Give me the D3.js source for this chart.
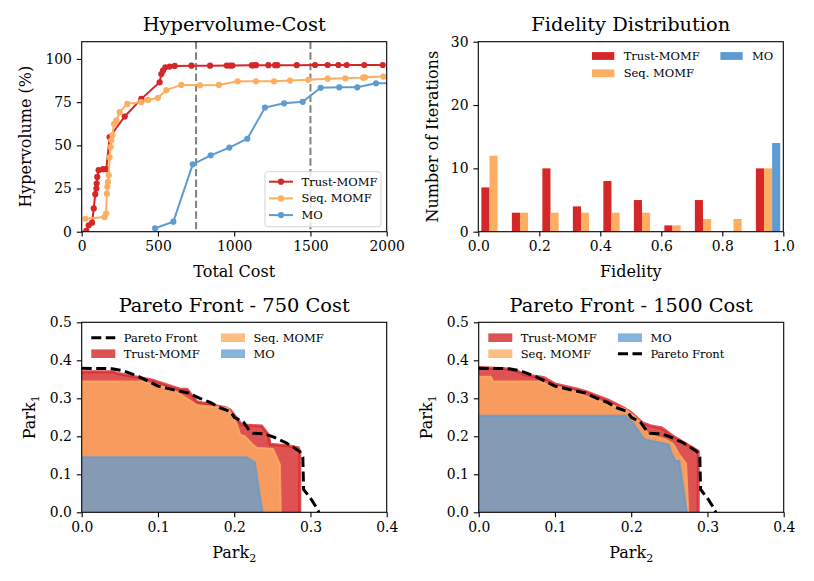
<!DOCTYPE html>
<html>
<head>
<meta charset="utf-8">
<script src="https://cdn.jsdelivr.net/npm/d3@7"></script>
<style>
  body { margin: 0; background: #fff; }
  svg text { font-family: "DejaVu Serif", serif; }
</style>
</head>
<body>
<svg id="chart" width="814" height="581"></svg>
<script>
// ---- data ----
const costTicks = [0, 500, 1000, 1500, 2000];
const hvTicks = [0, 25, 50, 75, 100];
const costMarks = [750, 1500];

const trustCost = [30, 46, 68, 79, 89, 96, 98, 102, 111, 140, 161, 183, 282, 391, 511, 522, 533, 549, 577, 610,
  720, 842, 951, 972, 988, 1115, 1125, 1143, 1224, 1268, 1283, 1410, 1530, 1613, 1683, 1738, 1853, 1974];
const trustHV = [0.5, 3.7, 5.2, 13.5, 21.7, 25, 27.9, 31.7, 35.6, 36.2, 36.2, 54.8, 66.7, 76.9, 86.5, 91.3, 93.2, 95.2, 95.6, 96,
  96.1, 96.1, 96.2, 96.2, 96.2, 96.3, 96.3, 96.4, 96.4, 96.4, 96.4, 96.4, 96.5, 96.5, 96.5, 96.5, 96.5, 96.5];

const seqCost = [25, 150, 160, 165, 168, 172, 177, 183, 190, 194, 201, 212, 227, 249, 299, 391, 435, 500, 555, 653,
  776, 900, 1023, 1143, 1261, 1366, 1486, 1613, 1729, 1845, 1858, 1978];
const seqHV = [7.5, 8.5, 10.5, 22, 26, 28.8, 32.7, 43, 49, 52.9, 55.8, 62.5, 64.4, 69.2, 74, 75, 76.3, 77.5, 82, 85,
  84.8, 85, 87.1, 87.1, 87.1, 87.5, 87.9, 88.6, 88.8, 89.2, 89.4, 89.8];

const moCost = [481, 601, 728, 846, 968, 1086, 1202, 1327, 1449, 1567, 1689, 1807, 1930, 2050];
const moHV = [2, 5.8, 39, 44.2, 48.7, 53.8, 71.9, 74.3, 75.2, 83.3, 83.6, 83.6, 85.9, 86];

const fidelityBins = [0.0, 0.1, 0.2, 0.3, 0.4, 0.5, 0.6, 0.7, 0.8, 0.9];
const binWidth = 0.1;
const trustCounts = [7, 3, 10, 4, 8, 5, 1, 5, 0, 10];
const seqCounts = [12, 3, 3, 3, 3, 3, 1, 2, 2, 10];
const moCounts = [0, 0, 0, 0, 0, 0, 0, 0, 0, 14];
const fidelityTicks = [0, 0.2, 0.4, 0.6, 0.8, 1.0];
const iterTicks = [0, 10, 20, 30];

const park2Ticks = [0, 0.1, 0.2, 0.3, 0.4];
const park1Ticks = [0, 0.1, 0.2, 0.3, 0.4, 0.5];

// [Park2, Park1]
const paretoFront = [[0, 0.379], [0.04, 0.378], [0.055, 0.372], [0.075, 0.357], [0.088, 0.344], [0.1, 0.332],
  [0.125, 0.32], [0.14, 0.314], [0.155, 0.3], [0.17, 0.288], [0.18, 0.276], [0.195, 0.265], [0.2, 0.25],
  [0.212, 0.238], [0.22, 0.215], [0.225, 0.208], [0.24, 0.206], [0.252, 0.198], [0.268, 0.183], [0.286, 0.16],
  [0.29, 0.145], [0.291, 0.06], [0.3, 0.037], [0.308, 0.012], [0.311, 0]];

const trust750 = [[0, 0.37], [0.042, 0.37], [0.046, 0.366], [0.092, 0.348], [0.129, 0.324], [0.138, 0.324],
  [0.151, 0.291], [0.19, 0.275], [0.195, 0.269], [0.21, 0.23], [0.236, 0.227], [0.245, 0.204], [0.247, 0.179],
  [0.271, 0.175], [0.284, 0.17], [0.286, 0.16], [0.286, 0]];
const seq750 = [[0, 0.344], [0.081, 0.344], [0.092, 0.337], [0.116, 0.326], [0.129, 0.311], [0.151, 0.282],
  [0.173, 0.278], [0.192, 0.274], [0.203, 0.234], [0.208, 0.204], [0.214, 0.2], [0.225, 0.177], [0.23, 0.17],
  [0.251, 0.167], [0.26, 0.125], [0.261, 0]];
const mo750 = [[0, 0.145], [0.216, 0.145], [0.227, 0.132], [0.237, 0]];

const trust1500 = [[0, 0.381], [0.035, 0.378], [0.05, 0.372], [0.06, 0.362], [0.085, 0.355], [0.1, 0.338],
  [0.13, 0.324], [0.14, 0.318], [0.17, 0.295], [0.19, 0.275], [0.2, 0.262], [0.215, 0.235], [0.225, 0.228],
  [0.24, 0.222], [0.255, 0.2], [0.286, 0.163], [0.288, 0.16], [0.288, 0]];
const seq1500 = [[0, 0.357], [0.016, 0.357], [0.019, 0.344], [0.08, 0.344], [0.092, 0.335], [0.115, 0.325],
  [0.142, 0.304], [0.173, 0.283], [0.192, 0.272], [0.203, 0.255], [0.216, 0.228], [0.222, 0.205], [0.245, 0.192],
  [0.255, 0.18], [0.263, 0.152], [0.272, 0.128], [0.275, 0]];
const mo1500 = [[0, 0.254], [0.192, 0.254], [0.203, 0.234], [0.216, 0.195], [0.221, 0.19], [0.249, 0.179],
  [0.253, 0.155], [0.258, 0.135], [0.263, 0.135], [0.273, 0]];

const RED = "#d62728", ORANGE = "#fdae61", BLUE = "#5e9bd0";
const FONT = '"DejaVu Serif", serif';
const TICK_FS = 13.9, LABEL_FS = 16, TITLE_FS = 19.4, LEGEND_FS = 11.5;

// ---- panel helper ----
const svg = d3.select("#chart");
const W = 305, H = 190;
let clipCount = 0;

function makePanel(left, top, o) {
  const g = svg.append("g").attr("transform", `translate(${left},${top})`);
  const x = d3.scaleLinear().domain(o.xDomain).range([0, W]);
  const y = d3.scaleLinear().domain(o.yDomain).range([H, 0]);
  const id = "clip" + (clipCount++);
  g.append("clipPath").attr("id", id).append("rect").attr("width", W).attr("height", H);
  const plot = g.append("g").attr("clip-path", `url(#${id})`);

  const xa = g.append("g").attr("transform", `translate(0,${H})`)
    .call(d3.axisBottom(x).tickValues(o.xTicks).tickFormat(o.xFmt).tickSize(4.9).tickPadding(4.9));
  const ya = g.append("g")
    .call(d3.axisLeft(y).tickValues(o.yTicks).tickFormat(o.yFmt).tickSize(4.9).tickPadding(4.9));
  [xa, ya].forEach(a => {
    a.attr("font-family", FONT).attr("font-size", TICK_FS);
    a.select(".domain").remove();
    a.selectAll(".tick line").attr("stroke", "#000").attr("stroke-width", 1.1);
    a.selectAll(".tick text").attr("fill", "#000");
  });

  g.append("text").attr("x", W / 2).attr("y", o.titleY).attr("text-anchor", "middle")
    .attr("font-size", TITLE_FS).text(o.title);

  const xl = g.append("text").attr("x", W / 2).attr("y", H + 45.5).attr("text-anchor", "middle")
    .attr("font-size", LABEL_FS).text(o.xLabel);
  if (o.xSub) xl.append("tspan").attr("font-size", 11).attr("dy", 4).text(o.xSub);

  const yl = g.append("text").attr("transform", `translate(${o.yLabelX},${H / 2}) rotate(-90)`)
    .attr("text-anchor", "middle").attr("font-size", LABEL_FS).text(o.yLabel);
  if (o.ySub) yl.append("tspan").attr("font-size", 11).attr("dy", 4).text(o.ySub);

  return { g, plot, x, y };
}

function addFrame(p) {
  p.g.append("rect").attr("width", W).attr("height", H)
    .attr("fill", "none").attr("stroke", "#000").attr("stroke-width", 1.1);
}

// ---- 1. Hypervolume-Cost ----
const p1 = makePanel(81.7, 41.7, {
  title: "Hypervolume-Cost", titleY: -11, xDomain: [0, 2000], yDomain: [0, 110],
  xTicks: costTicks, yTicks: hvTicks, xFmt: d3.format("d"), yFmt: d3.format("d"),
  xLabel: "Total Cost", yLabel: "Hypervolume (%)", yLabelX: -51
});

p1.plot.selectAll(".mark").data(costMarks).enter().append("line")
  .attr("x1", d => p1.x(d)).attr("x2", d => p1.x(d))
  .attr("y1", 0).attr("y2", H)
  .attr("stroke", "#808080").attr("stroke-width", 2).attr("stroke-dasharray", "7.4,3.2");

const hvSeries = [
  { name: "Trust-MOMF", color: RED, cost: trustCost, hv: trustHV },
  { name: "Seq. MOMF", color: ORANGE, cost: seqCost, hv: seqHV },
  { name: "MO", color: BLUE, cost: moCost, hv: moHV }
];
const hvLine = d3.line().x(d => p1.x(d[0])).y(d => p1.y(d[1]));
hvSeries.forEach(s => {
  const pts = s.cost.map((c, i) => [c, s.hv[i]]);
  p1.plot.append("path").datum(pts)
    .attr("fill", "none").attr("stroke", s.color).attr("stroke-width", 2).attr("d", hvLine);
  p1.plot.selectAll(null).data(pts).enter().append("circle")
    .attr("cx", d => p1.x(d[0])).attr("cy", d => p1.y(d[1])).attr("r", 3.1)
    .attr("fill", s.color);
});
addFrame(p1);

// legend (framed)
const lg1 = p1.g.append("g").attr("transform", "translate(183.3,130)");
lg1.append("rect").attr("width", 116).attr("height", 55).attr("rx", 2.5)
  .attr("fill", "#fff").attr("fill-opacity", 0.8).attr("stroke", "#d5d5d5").attr("stroke-width", 1);
hvSeries.forEach((s, i) => {
  const yy = 10 + i * 16.7;
  lg1.append("line").attr("x1", 4).attr("x2", 28).attr("y1", yy).attr("y2", yy)
    .attr("stroke", s.color).attr("stroke-width", 2);
  lg1.append("circle").attr("cx", 16).attr("cy", yy).attr("r", 3.1).attr("fill", s.color);
  lg1.append("text").attr("x", 36.5).attr("y", yy + 4).attr("font-size", LEGEND_FS).text(s.name);
});

// ---- 2. Fidelity Distribution ----
const p2 = makePanel(478.3, 41.7, {
  title: "Fidelity Distribution", titleY: -11, xDomain: [0, 1], yDomain: [0, 30],
  xTicks: fidelityTicks, yTicks: iterTicks, xFmt: d3.format(".1f"), yFmt: d3.format("d"),
  xLabel: "Fidelity", yLabel: "Number of Iterations", yLabelX: -40.5
});
const histSeries = [
  { name: "Trust-MOMF", color: RED, counts: trustCounts },
  { name: "Seq. MOMF", color: ORANGE, counts: seqCounts },
  { name: "MO", color: BLUE, counts: moCounts }
];
const barW = 0.8 * binWidth / histSeries.length;
histSeries.forEach((s, k) => {
  const bars = fidelityBins.map((b, i) => ({ x0: b + 0.1 * binWidth + k * barW, n: s.counts[i] }))
    .filter(d => d.n > 0);
  p2.plot.selectAll(null).data(bars).enter().append("rect")
    .attr("x", d => p2.x(d.x0)).attr("width", p2.x(barW) - p2.x(0))
    .attr("y", d => p2.y(d.n)).attr("height", d => p2.y(0) - p2.y(d.n))
    .attr("fill", s.color);
});
addFrame(p2);

const lg2 = p2.g.append("g");
[[0, 0, 0], [1, 0, 1], [2, 1, 0]].forEach(([k, col, row]) => {
  const x0 = 113.7 + col * 128.4, yy = 14.3 + row * 17.3;
  lg2.append("rect").attr("x", x0).attr("y", yy - 3.9).attr("width", 22.3).attr("height", 7.8)
    .attr("fill", histSeries[k].color);
  lg2.append("text").attr("x", x0 + 31.7).attr("y", yy + 4).attr("font-size", LEGEND_FS).text(histSeries[k].name);
});

// ---- 3 & 4. Pareto fronts ----
function paretoPanel(left, title, fills, legendItems) {
  const p = makePanel(left, 322.3, {
    title, titleY: -10, xDomain: [0, 0.4], yDomain: [0, 0.5],
    xTicks: park2Ticks, yTicks: park1Ticks, xFmt: d3.format(".1f"), yFmt: d3.format(".1f"),
    xLabel: "Park", xSub: "2", yLabel: "Park", ySub: "1", yLabelX: -47
  });
  const area = d3.area().x(d => p.x(d[0])).y0(p.y(0)).y1(d => p.y(d[1]));
  const edge = d3.line().x(d => p.x(d[0])).y(d => p.y(d[1]));
  fills.forEach(f => {
    p.plot.append("path").datum(f.pts).attr("d", area)
      .attr("fill", f.color).attr("fill-opacity", f.alpha);
    p.plot.append("path").datum(f.pts).attr("d", edge)
      .attr("fill", "none").attr("stroke", f.color).attr("stroke-opacity", f.alpha)
      .attr("stroke-width", f.lw).attr("stroke-linejoin", "miter");
  });
  p.plot.append("path").datum(paretoFront).attr("d", edge)
    .attr("fill", "none").attr("stroke", "#000").attr("stroke-width", 3)
    .attr("stroke-dasharray", "10,4.5");
  addFrame(p);

  const lg = p.g.append("g");
  legendItems.forEach((it, i) => {
    const col = Math.floor(i / 2), row = i % 2;
    const x0 = 9.6 + col * 129.7, yy = 15.4 + row * 16;
    if (it.dashed) {
      lg.append("line").attr("x1", x0).attr("x2", x0 + 24).attr("y1", yy).attr("y2", yy)
        .attr("stroke", "#000").attr("stroke-width", 3).attr("stroke-dasharray", "10,4.5");
    } else {
      lg.append("rect").attr("x", x0).attr("y", yy - 4.3).attr("width", 24).attr("height", 8.6)
        .attr("fill", it.color).attr("fill-opacity", it.alpha);
    }
    lg.append("text").attr("x", x0 + 32.4).attr("y", yy + 4).attr("font-size", LEGEND_FS).text(it.name);
  });
}

const TR = { name: "Trust-MOMF", color: RED, alpha: 0.8, lw: 3 };
const SQ = { name: "Seq. MOMF", color: ORANGE, alpha: 0.8, lw: 2 };
const MOf = { name: "MO", color: BLUE, alpha: 0.75, lw: 2 };
const PF = { name: "Pareto Front", dashed: true };

paretoPanel(81.7, "Pareto Front - 750 Cost",
  [{ ...TR, pts: trust750 }, { ...SQ, pts: seq750 }, { ...MOf, pts: mo750 }],
  [PF, TR, SQ, MOf]);
paretoPanel(478.7, "Pareto Front - 1500 Cost",
  [{ ...TR, pts: trust1500 }, { ...SQ, pts: seq1500 }, { ...MOf, pts: mo1500 }],
  [TR, SQ, MOf, PF]);
</script>
</body>
</html>
